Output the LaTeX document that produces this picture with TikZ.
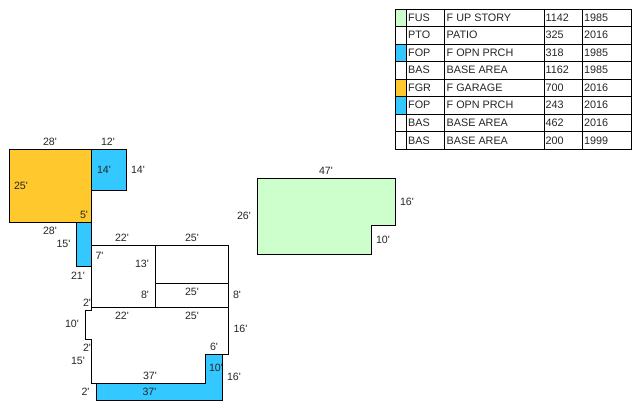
\documentclass[tikz,border=0pt]{standalone}
\usepackage{fontspec}
\newfontfamily\lab{Liberation Sans}
\definecolor{garage}{HTML}{FFC82D}
\definecolor{porch}{HTML}{33C8FF}
\definecolor{upstory}{HTML}{CCFFCC}
\tikzset{
  plan/.style={draw=black,line width=0.9pt,line join=miter},
  dim/.style={font=\lab\fontsize{10.6}{12}\selectfont,inner sep=0pt,text=black!85},
  cell/.style={font=\lab\fontsize{10.8}{12}\selectfont,inner sep=0pt,anchor=base west,text=black!85},
  gridline/.style={draw=black,line width=0.9pt}
}
\begin{document}
\begin{tikzpicture}[x=1pt,y=-1pt]
\useasboundingbox (0,0) rectangle (640,409);
\fill[white] (0,0) rectangle (640,409);
% plan areas
\path[plan,fill=garage] (9.5,149.5) rectangle (91.5,222);
\path[plan,fill=porch] (91.5,149.5) rectangle (126.5,190.5);
\path[plan,fill=porch] (76.5,222) rectangle (91.5,266);
\path[plan,fill=porch] (205.5,354.5) -- (222.5,354.5) -- (222.5,400.5) -- (96.5,400.5) -- (96.5,383.5) -- (205.5,383.5) -- cycle;
\path[plan,fill=upstory] (257.5,178.5) -- (395.5,178.5) -- (395.5,225.5) -- (371.5,225.5) -- (371.5,254.5) -- (257.5,254.5) -- cycle;
\path[plan] (91.5,245.5) -- (228.5,245.5) -- (228.5,354.5) -- (205.5,354.5) -- (205.5,383.5) -- (91.5,383.5) -- (91.5,339.5) -- (85.5,339.5) -- (85.5,310.5) -- (91.5,310.5) -- cycle;
\path[plan] (91.5,307.5) -- (228.5,307.5);
\path[plan] (155.5,245.5) -- (155.5,307.5);
\path[plan] (155.5,283.5) -- (228.5,283.5);
% plan dimensions
\node[dim] (d01) at (50,141.5) {28'};
\node[dim] (d02) at (108,141.5) {12'};
\node[dim] (d03) at (104,169.5) {14'};
\node[dim] (d04) at (138,169.5) {14'};
\node[dim] (d05) at (21,186) {25'};
\node[dim] (d06) at (84,214.5) {5'};
\node[dim] (d07) at (50,231) {28'};
\node[dim] (d08) at (63.5,243.5) {15'};
\node[dim] (d09) at (122,238) {22'};
\node[dim] (d10) at (192,238) {25'};
\node[dim] (d11) at (99.5,255.5) {7'};
\node[dim] (d12) at (142,263.5) {13'};
\node[dim] (d13) at (78,276) {21'};
\node[dim] (d14) at (192,291.5) {25'};
\node[dim] (d15) at (145,295) {8'};
\node[dim] (d16) at (237,295) {8'};
\node[dim] (d17) at (87,303) {2'};
\node[dim] (d18) at (122,315.5) {22'};
\node[dim] (d19) at (192,315.5) {25'};
\node[dim] (d20) at (72,323.5) {10'};
\node[dim] (d21) at (240.5,329) {16'};
\node[dim] (d22) at (87,347.5) {2'};
\node[dim] (d23) at (214,347) {6'};
\node[dim] (d24) at (78,360.5) {15'};
\node[dim] (d25) at (216,367.5) {10'};
\node[dim] (d26) at (150,375.5) {37'};
\node[dim] (d27) at (234,376.5) {16'};
\node[dim] (d28) at (85.5,392) {2'};
\node[dim] (d29) at (149.5,392) {37'};
\node[dim] (d30) at (326,171) {47'};
\node[dim] (d31) at (244,216) {26'};
\node[dim] (d32) at (407,201.5) {16'};
\node[dim] (d33) at (383,240) {10'};
% table swatches
\fill[upstory] (395.5,9.5) rectangle (406.5,26.5);
\fill[porch] (395.5,44.5) rectangle (406.5,61.5);
\fill[garage] (395.5,79.5) rectangle (406.5,96.5);
\fill[porch] (395.5,96.5) rectangle (406.5,114.5);
% table grid
\draw[gridline] (395.5,9.5) rectangle (631.5,149.5);
\foreach \yy in {26.5,44.5,61.5,79.5,96.5,114.5,131.5}
  \draw[gridline] (395.5,\yy) -- (631.5,\yy);
\foreach \xx in {406.5,444.5,544.5,582.5}
  \draw[gridline] (\xx,9.5) -- (\xx,149.5);
% table text
\newcommand{\tablerow}[6]{%
  \node[cell] (c#1a) at (408,#2) {#3};
  \node[cell] (c#1b) at (446.5,#2) {#4};
  \node[cell] (c#1c) at (545.5,#2) {#5};
  \node[cell] (c#1d) at (584,#2) {#6};
}
\tablerow{1}{21.5}{FUS}{F UP STORY}{1142}{1985}
\tablerow{2}{39}{PTO}{PATIO}{325}{2016}
\tablerow{3}{56.5}{FOP}{F OPN PRCH}{318}{1985}
\tablerow{4}{74}{BAS}{BASE AREA}{1162}{1985}
\tablerow{5}{91.5}{FGR}{F GARAGE}{700}{2016}
\tablerow{6}{109}{FOP}{F OPN PRCH}{243}{2016}
\tablerow{7}{126.5}{BAS}{BASE AREA}{462}{2016}
\tablerow{8}{144.5}{BAS}{BASE AREA}{200}{1999}
\end{tikzpicture}
\end{document}
